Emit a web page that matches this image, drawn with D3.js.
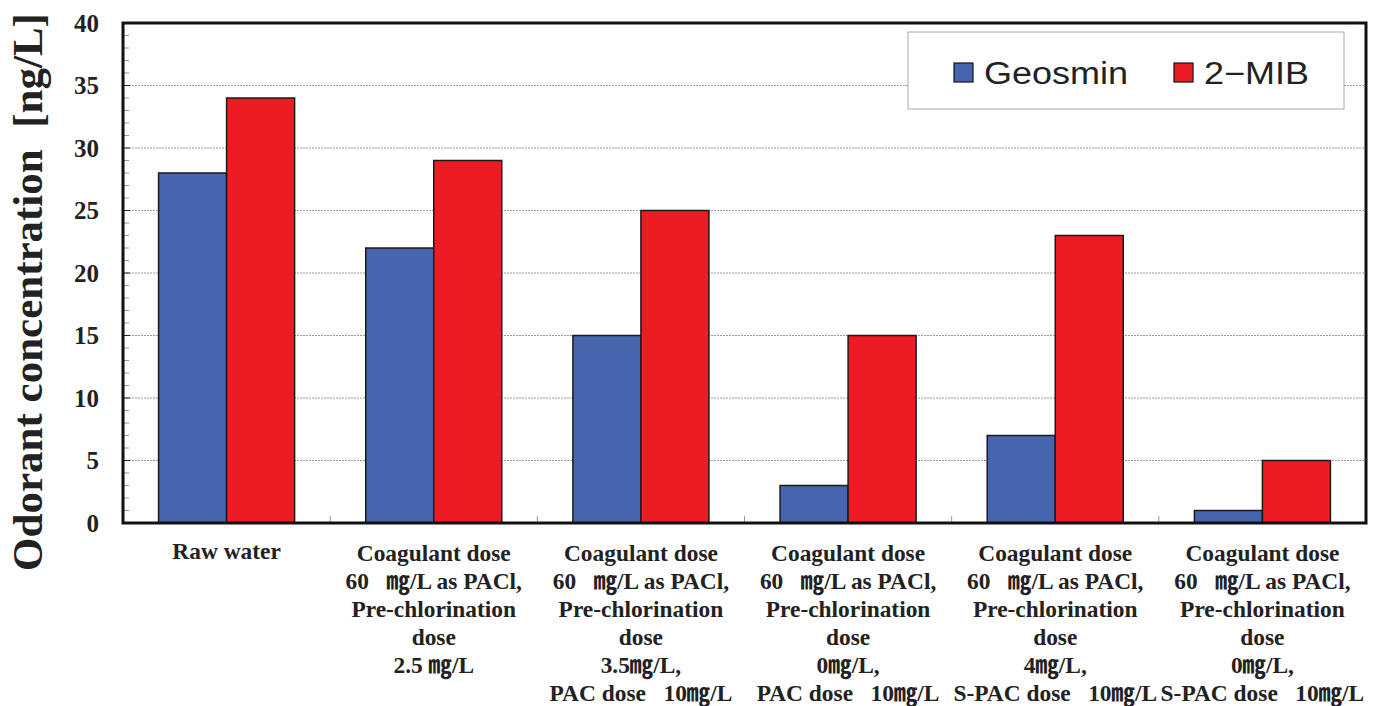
<!DOCTYPE html>
<html>
<head>
<meta charset="utf-8">
<script src="https://cdn.jsdelivr.net/npm/d3@7"></script>
<style>
  html, body { margin: 0; padding: 0; background: #fff; }
  svg { display: block; }
</style>
</head>
<body>
<svg id="chart" width="1379" height="706"></svg>
<script>
// Treatment conditions (multi-line category labels)
const categories = [
  ["Raw water"],
  ["Coagulant dose", "60   ㎎/L as PACl,", "Pre-chlorination", "dose", "2.5 ㎎/L"],
  ["Coagulant dose", "60   ㎎/L as PACl,", "Pre-chlorination", "dose", "3.5㎎/L,", "PAC dose   10㎎/L"],
  ["Coagulant dose", "60   ㎎/L as PACl,", "Pre-chlorination", "dose", "0㎎/L,", "PAC dose   10㎎/L"],
  ["Coagulant dose", "60   ㎎/L as PACl,", "Pre-chlorination", "dose", "4㎎/L,", "S-PAC dose   10㎎/L"],
  ["Coagulant dose", "60   ㎎/L as PACl,", "Pre-chlorination", "dose", "0㎎/L,", "S-PAC dose   10㎎/L"]
];
const seriesNames = ["Geosmin", "2-MIB"];
const geosmin = [28, 22, 15, 3, 7, 1];
const mib = [34, 29, 25, 15, 23, 5];
const yTicks = [0, 5, 10, 15, 20, 25, 30, 35, 40];
const colors = ["#4765AF", "#ED1C24"];

const svg = d3.select("#chart");
const plotL = 123, plotR = 1366, plotT = 23, plotB = 523;
const serif = "'Liberation Serif', 'Times New Roman', 'Noto Sans CJK JP', serif";
const sans = "'Liberation Sans', Arial, sans-serif";

const catIdx = categories.map((d, i) => i);
const x = d3.scaleBand().domain(catIdx).range([plotL, plotR]).paddingInner(0).paddingOuter(0);
const xs = d3.scaleBand().domain(seriesNames).range([0, x.bandwidth()]).paddingInner(0).paddingOuter(0.523);
const y = d3.scaleLinear().domain([0, 40]).range([plotB, plotT]);

// Dotted gridlines at major ticks
svg.append("g").selectAll("line")
  .data(yTicks.filter(t => t > 0 && t < 40))
  .join("line")
  .attr("x1", plotL).attr("x2", plotR)
  .attr("y1", d => y(d)).attr("y2", d => y(d))
  .attr("stroke", "#9a9a9a").attr("stroke-width", 1)
  .attr("stroke-dasharray", "2,1");

// Minor ticks (every 1 unit) inside the left axis
svg.append("g").selectAll("line")
  .data(d3.range(1, 40).filter(v => v % 5 !== 0))
  .join("line")
  .attr("x1", plotL).attr("x2", plotL + 6)
  .attr("y1", d => y(d)).attr("y2", d => y(d))
  .attr("stroke", "#999").attr("stroke-width", 1);
svg.append("g").selectAll("line")
  .data(yTicks.filter(t => t > 0 && t < 40))
  .join("line")
  .attr("x1", plotL).attr("x2", plotL + 7)
  .attr("y1", d => y(d)).attr("y2", d => y(d))
  .attr("stroke", "#222").attr("stroke-width", 1);

// Category separator ticks along the bottom
svg.append("g").selectAll("line")
  .data(catIdx.slice(1))
  .join("line")
  .attr("x1", d => x(d)).attr("x2", d => x(d))
  .attr("y1", plotB).attr("y2", plotB - 7)
  .attr("stroke", "#999").attr("stroke-width", 1);

// Bars
const rows = catIdx.map(i => ({ i, vals: [geosmin[i], mib[i]] }));
const groups = svg.append("g").selectAll("g")
  .data(rows).join("g")
  .attr("transform", d => `translate(${x(d.i)},0)`);
groups.selectAll("rect")
  .data(d => d.vals.map((v, k) => ({ v, k })))
  .join("rect")
  .attr("x", d => xs(seriesNames[d.k]))
  .attr("width", xs.bandwidth())
  .attr("y", d => y(d.v))
  .attr("height", d => y(0) - y(d.v))
  .attr("fill", d => colors[d.k])
  .attr("stroke", "#1a1a1a").attr("stroke-width", 1.5);

// Plot frame
svg.append("rect")
  .attr("x", plotL).attr("y", plotT)
  .attr("width", plotR - plotL).attr("height", plotB - plotT)
  .attr("fill", "none").attr("stroke", "#111").attr("stroke-width", 3);

// Y tick labels
svg.append("g").selectAll("text")
  .data(yTicks).join("text")
  .attr("x", 99).attr("y", d => y(d))
  .attr("dy", "0.35em")
  .attr("text-anchor", "end")
  .attr("font-family", serif).attr("font-weight", "bold").attr("font-size", 25)
  .attr("fill", "#222")
  .text(d => d);

// Y axis title
svg.append("text")
  .attr("transform", "translate(42,292) rotate(-90)")
  .attr("text-anchor", "middle")
  .attr("font-family", serif).attr("font-weight", "bold").attr("font-size", 43)
  .attr("fill", "#222")
  .style("white-space", "pre")
  .text("Odorant concentration  [ng/L]");

// Category labels
const lab = svg.append("g").selectAll("text")
  .data(rows).join("text")
  .attr("text-anchor", "middle")
  .attr("font-family", serif).attr("font-weight", "bold").attr("font-size", 23.4)
  .attr("fill", "#222")
  .style("white-space", "pre");
lab.each(function(d) {
  const t = d3.select(this);
  categories[d.i].forEach((line, j) => {
    t.append("tspan")
      .attr("x", x(d.i) + x.bandwidth() / 2)
      .attr("y", (d.i === 0 ? 559 : 561) + j * 28)
      .text(line);
  });
});

// Legend
const lg = svg.append("g");
lg.append("rect")
  .attr("x", 908).attr("y", 32).attr("width", 436).attr("height", 77)
  .attr("fill", "#fff").attr("stroke", "#aaa").attr("stroke-width", 1);
const legendX = [954, 1174];
const legendW = [144, 105];
seriesNames.forEach((name, k) => {
  lg.append("rect")
    .attr("x", legendX[k]).attr("y", 63).attr("width", 19).attr("height", 19)
    .attr("fill", colors[k]).attr("stroke", "#111").attr("stroke-width", 1.2);
  lg.append("text")
    .attr("x", legendX[k] + 30).attr("y", 84)
    .attr("font-family", sans).attr("font-size", 31)
    .attr("textLength", legendW[k]).attr("lengthAdjust", "spacingAndGlyphs")
    .attr("fill", "#222")
    .text(name === "2-MIB" ? "2\u2212MIB" : name);
});
</script>
</body>
</html>
